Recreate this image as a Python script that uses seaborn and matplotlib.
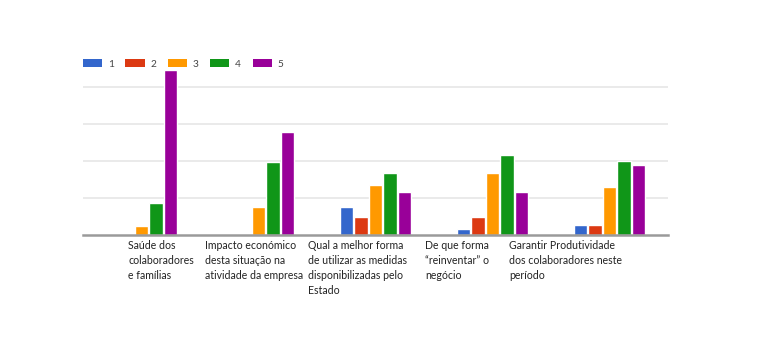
import pandas as pd
import seaborn as sns
import matplotlib.pyplot as plt
import matplotlib.transforms as mtransforms
from matplotlib.patches import Patch

categories = ['Saúde dos\ncolaboradores\ne famílias',
              'Impacto económico\ndesta situação na\natividade da empresa',
              'Qual a melhor forma\nde utilizar as medidas\ndisponibilizadas pelo\nEstado',
              'De que forma\n“reinventar” o\nnegócio',
              'Garantir Produtividade\ndos colaboradores neste\nperíodo']
ratings = ['1', '2', '3', '4', '5']
r1 = [0, 0, 7.7, 1.5, 2.7]
r2 = [0, 0, 4.8, 4.8, 2.7]
r3 = [2.5, 7.7, 13.5, 16.8, 13.0]
r4 = [8.7, 19.6, 16.8, 21.6, 19.9]
r5 = [44.6, 27.8, 11.7, 11.7, 18.8]

palette = ['#3366CC', '#DC3912', '#FF9900', '#109618', '#990099']
# left edge of each wrapped label, in category units (the labels sit unevenly)
label_x = [-0.115, 0.543, 1.423, 2.423, 3.141]

rows = []
for r, vals in zip(ratings, [r1, r2, r3, r4, r5]):
    for c, v in zip(categories, vals):
        rows.append({'cat': c, 'rating': r, 'value': v})
df = pd.DataFrame(rows)

sns.set_theme(style='white')
plt.rcParams['font.family'] = ['Lato', 'DejaVu Sans']

fig = plt.figure(figsize=(7.77, 3.62), dpi=100)
ax = fig.add_axes([0.1068, 0.3508, 0.7529, 0.511])

sns.barplot(data=df, x='cat', y='value', hue='rating', palette=palette,
            width=0.62, gap=0.07, ax=ax, saturation=1, errorbar=None,
            legend=False)

ax.set_ylim(0, 50)
ax.set_xlim(-0.5, 4.5)
ax.set_yticks([10, 20, 30, 40])
ax.set_yticklabels([])
ax.tick_params(left=False, bottom=False)
ax.yaxis.grid(True, color='#e6e6e6', linewidth=1.2)
ax.set_axisbelow(True)
for s in ['top', 'right', 'left']:
    ax.spines[s].set_visible(False)
ax.spines['bottom'].set_color('#9a9a9a')
ax.spines['bottom'].set_linewidth(1.8)
ax.set_xlabel('')
ax.set_ylabel('')
ax.set_xticklabels([])

trans = mtransforms.blended_transform_factory(ax.transData, ax.transAxes)
for x, lab in zip(label_x, categories):
    ax.text(x, -0.025, lab, transform=trans, ha='left', va='top',
            fontsize=7.6, color='#222222', linespacing=1.45)

handles = [Patch(facecolor=c, edgecolor='none') for c in palette]
fig.legend(handles, ratings, ncol=5, loc='center left',
           bbox_to_anchor=(0.095, 0.823), frameon=False, fontsize=7.3,
           handlelength=1.9, handleheight=0.85, handletextpad=0.55,
           columnspacing=1.15, labelcolor='#444444')

fig.savefig('out.png', dpi=100)
